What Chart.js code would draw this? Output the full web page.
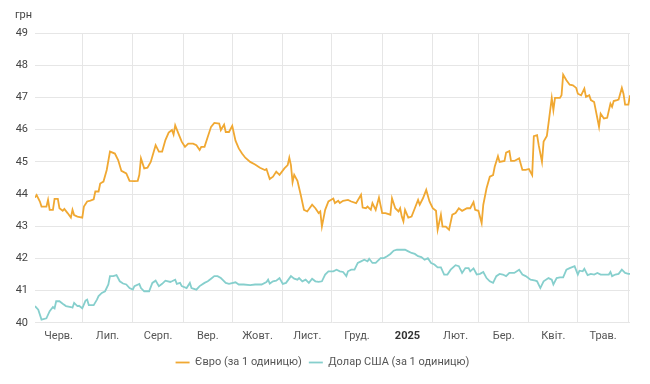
<!DOCTYPE html>
<html lang="uk">
<head>
<meta charset="utf-8">
<script src="https://cdn.jsdelivr.net/npm/chart.js@4"></script>
<style>
  html, body { margin: 0; padding: 0; background: #fff; }
  #wrap { width: 650px; height: 384px; }
</style>
</head>
<body>
<div id="wrap"><canvas id="rateChart"></canvas></div>
<script>
// Days counted from 1 June 2024 (day 1) to 1 June 2025 (day 366)
const monthStarts = [30, 61, 92, 122, 153, 183, 214, 245, 273, 304, 334, 365];
const monthMids = [15.5, 45.5, 76.5, 107, 137.5, 168, 198.5, 229.5, 259, 288.5, 319, 349.5];
const monthLabels = ['Черв.', 'Лип.', 'Серп.', 'Вер.', 'Жовт.', 'Лист.', 'Груд.', '2025', 'Лют.', 'Бер.', 'Квіт.', 'Трав.'];

const yTicks = [40, 41, 42, 43, 44, 45, 46, 47, 48, 49];

const euroDays = [1, 2, 4, 5, 8, 9, 10, 12, 13, 15, 16, 18, 19, 21, 23, 24, 25, 27, 30, 31, 33, 35, 37, 38, 40, 41, 43, 45, 47, 50, 52, 54, 57, 59, 62, 64, 65, 66, 68, 70, 72, 75, 77, 79, 81, 83, 85, 86, 87, 89, 91, 93, 95, 98, 100, 102, 103, 105, 107, 109, 111, 114, 115, 117, 118, 120, 122, 124, 126, 128, 130, 133, 136, 139, 142, 143, 145, 147, 149, 151, 154, 156, 157, 158, 159, 160, 162, 164, 166, 168, 171, 173, 175, 176, 177, 179, 181, 184, 185, 187, 188, 190, 193, 195, 198, 201, 202, 204, 205, 207, 208, 210, 212, 214, 216, 219, 220, 222, 224, 225, 226, 227, 228, 230, 232, 234, 236, 237, 239, 241, 243, 245, 247, 248, 250, 251, 253, 255, 257, 259, 261, 263, 266, 268, 270, 271, 273, 275, 276, 278, 280, 282, 283, 285, 286, 289, 290, 292, 293, 295, 298, 300, 302, 304, 306, 307, 309, 310, 312, 313, 315, 316, 318, 319, 320, 323, 324, 325, 327, 329, 331, 333, 334, 336, 338, 339, 341, 342, 344, 346, 347, 348, 350, 352, 354, 355, 356, 358, 359, 361, 362, 363, 365, 366];
const euroRates = [43.89, 43.97, 43.77, 43.61, 43.61, 43.82, 43.51, 43.51, 43.85, 43.85, 43.56, 43.48, 43.54, 43.41, 43.27, 43.51, 43.35, 43.30, 43.27, 43.61, 43.77, 43.80, 43.84, 44.08, 44.08, 44.33, 44.39, 44.75, 45.32, 45.26, 45.06, 44.72, 44.64, 44.41, 44.40, 44.41, 44.60, 45.11, 44.80, 44.82, 45.00, 45.52, 45.32, 45.32, 45.68, 45.91, 45.99, 45.85, 46.14, 45.88, 45.63, 45.47, 45.57, 45.57, 45.52, 45.37, 45.47, 45.47, 45.78, 46.09, 46.21, 46.19, 45.99, 46.16, 45.93, 45.93, 46.12, 45.66, 45.42, 45.26, 45.13, 45.00, 44.92, 44.82, 44.75, 44.78, 44.47, 44.54, 44.70, 44.60, 44.80, 44.90, 45.13, 44.90, 44.37, 44.60, 44.41, 43.98, 43.51, 43.46, 43.67, 43.56, 43.41, 43.46, 42.99, 43.51, 43.77, 43.86, 43.72, 43.79, 43.72, 43.79, 43.82, 43.77, 43.72, 43.98, 43.58, 43.56, 43.61, 43.51, 43.72, 43.51, 43.89, 43.41, 43.41, 43.36, 43.87, 43.56, 43.46, 43.56, 43.30, 43.15, 43.51, 43.27, 43.30, 43.56, 43.82, 43.67, 43.87, 44.13, 43.77, 43.56, 43.48, 42.89, 43.36, 42.99, 42.99, 42.89, 43.36, 43.41, 43.56, 43.48, 43.56, 43.56, 43.75, 43.51, 43.48, 43.10, 43.67, 44.18, 44.54, 44.59, 44.85, 45.18, 45.00, 45.03, 45.29, 45.34, 45.03, 45.03, 45.11, 44.75, 44.75, 44.78, 44.59, 45.80, 45.83, 45.52, 45.00, 45.63, 45.81, 46.19, 46.99, 46.61, 46.99, 46.99, 47.07, 47.71, 47.54, 47.40, 47.38, 47.30, 47.12, 47.07, 47.28, 47.02, 47.07, 46.92, 46.86, 46.35, 46.09, 46.50, 46.35, 46.37, 46.81, 46.71, 46.89, 46.92, 46.94, 47.30, 47.12, 46.78, 46.78, 47.07];

const usdDays = [1, 3, 5, 8, 10, 12, 13, 14, 16, 18, 20, 23, 24, 25, 27, 28, 30, 32, 33, 34, 37, 39, 40, 42, 44, 46, 47, 49, 51, 53, 55, 57, 59, 61, 62, 65, 66, 68, 71, 73, 75, 77, 79, 81, 84, 85, 87, 88, 90, 91, 94, 96, 97, 100, 102, 105, 107, 109, 111, 113, 115, 116, 118, 120, 124, 126, 129, 133, 136, 140, 143, 144, 145, 147, 149, 151, 153, 155, 158, 160, 162, 163, 165, 167, 169, 171, 173, 175, 177, 179, 181, 184, 186, 188, 190, 192, 193, 195, 197, 199, 201, 203, 205, 206, 208, 210, 213, 215, 217, 219, 221, 223, 226, 228, 230, 232, 234, 236, 238, 240, 242, 244, 246, 248, 250, 252, 254, 256, 259, 261, 263, 265, 267, 268, 270, 272, 274, 276, 278, 280, 282, 284, 286, 288, 290, 292, 295, 298, 300, 302, 305, 308, 309, 311, 313, 316, 318, 319, 321, 323, 325, 327, 329, 332, 334, 335, 337, 338, 340, 342, 344, 346, 348, 351, 353, 354, 355, 357, 359, 361, 363, 365, 366];
const usdRates = [40.52, 40.41, 40.10, 40.14, 40.36, 40.49, 40.45, 40.67, 40.67, 40.59, 40.52, 40.49, 40.47, 40.62, 40.52, 40.53, 40.45, 40.69, 40.72, 40.55, 40.55, 40.72, 40.83, 40.93, 40.98, 41.19, 41.45, 41.45, 41.48, 41.29, 41.22, 41.19, 41.08, 41.03, 41.14, 41.21, 41.08, 40.98, 40.98, 41.24, 41.31, 41.14, 41.21, 41.31, 41.27, 41.29, 41.34, 41.21, 41.24, 41.14, 41.08, 41.24, 41.08, 41.03, 41.14, 41.24, 41.29, 41.37, 41.45, 41.45, 41.39, 41.34, 41.24, 41.21, 41.26, 41.19, 41.19, 41.17, 41.19, 41.19, 41.27, 41.34, 41.22, 41.29, 41.31, 41.39, 41.21, 41.24, 41.45, 41.37, 41.34, 41.39, 41.29, 41.34, 41.24, 41.37, 41.29, 41.27, 41.29, 41.50, 41.60, 41.60, 41.65, 41.60, 41.58, 41.45, 41.60, 41.65, 41.65, 41.86, 41.91, 41.96, 41.91, 41.99, 41.86, 41.86, 42.01, 42.01, 42.07, 42.14, 42.24, 42.27, 42.27, 42.27, 42.22, 42.17, 42.14, 42.07, 42.04, 41.96, 42.01, 41.86, 41.81, 41.72, 41.72, 41.50, 41.50, 41.65, 41.79, 41.76, 41.55, 41.70, 41.70, 41.60, 41.69, 41.50, 41.52, 41.58, 41.39, 41.29, 41.24, 41.45, 41.52, 41.50, 41.45, 41.55, 41.55, 41.65, 41.50, 41.45, 41.34, 41.31, 41.29, 41.08, 41.29, 41.39, 41.34, 41.19, 41.39, 41.41, 41.41, 41.65, 41.70, 41.76, 41.50, 41.62, 41.60, 41.68, 41.48, 41.52, 41.50, 41.55, 41.50, 41.50, 41.50, 41.58, 41.45, 41.50, 41.52, 41.65, 41.55, 41.52, 41.52];

const euroColor = '#f0a832';
const usdColor = '#86cfcd';
const gridColor = '#e6e6e6';

Chart.defaults.font.family = "Roboto, 'Noto Sans', sans-serif";
Chart.defaults.font.size = 11;

const toPoints = (days, rates) => days.map((d, i) => ({ x: d, y: rates[i] }));

// no extra side padding from the month labels
const noSidePadding = axis => {
    axis.paddingLeft = 0;
    axis.paddingRight = 0;
};

new Chart(document.getElementById('rateChart'), {
    type: 'line',
    data: {
        datasets: [{
            label: 'Євро (за 1 одиницю)',
            data: toPoints(euroDays, euroRates),
            borderColor: euroColor,
            backgroundColor: euroColor,
            borderWidth: 1.8,
            pointRadius: 0,
            tension: 0
        }, {
            label: 'Долар США (за 1 одиницю)',
            data: toPoints(usdDays, usdRates),
            borderColor: usdColor,
            backgroundColor: usdColor,
            borderWidth: 1.8,
            pointRadius: 0,
            tension: 0
        }]
    },
    options: {
        responsive: true,
        maintainAspectRatio: false,
        animation: false,
        layout: {
            padding: { left: 15, right: 20, top: 0, bottom: 6 }
        },
        scales: {
            x: {
                type: 'linear',
                min: 1,
                max: 366,
                position: 'bottom',
                afterBuildTicks: axis => {
                    axis.ticks = monthStarts.map(v => ({ value: v }));
                },
                afterFit: noSidePadding,
                ticks: { display: false },
                grid: { color: gridColor, drawTicks: false },
                border: { display: false }
            },
            xLabels: {
                type: 'linear',
                axis: 'x',
                min: 1,
                max: 366,
                position: 'bottom',
                afterBuildTicks: axis => {
                    axis.ticks = monthMids.map(v => ({ value: v }));
                },
                afterFit: noSidePadding,
                ticks: {
                    autoSkip: false,
                    maxRotation: 0,
                    padding: 7,
                    color: ctx => ctx.index === 7 ? '#333' : '#555',
                    font: ctx => ({ size: 11, weight: ctx.index === 7 ? 'bold' : 'normal' }),
                    callback: (value, index) => monthLabels[index]
                },
                grid: { display: false, drawTicks: false },
                border: { display: false }
            },
            y: {
                min: 40,
                max: 49,
                afterBuildTicks: axis => {
                    axis.ticks = yTicks.map(v => ({ value: v }));
                },
                afterFit: axis => {
                    axis.width = 20;
                },
                ticks: { color: '#444', padding: 7 },
                grid: { color: gridColor, drawTicks: false },
                border: { display: false }
            }
        },
        plugins: {
            title: {
                display: true,
                text: 'грн',
                align: 'start',
                color: '#444',
                font: { size: 11, weight: 'normal' },
                padding: { top: 9, bottom: 11 }
            },
            legend: {
                position: 'bottom',
                labels: {
                    color: '#555',
                    usePointStyle: true,
                    pointStyle: 'line',
                    pointStyleWidth: 14,
                    padding: 7,
                    font: { size: 11 }
                }
            },
            tooltip: { enabled: false }
        }
    }
});
</script>
</body>
</html>
